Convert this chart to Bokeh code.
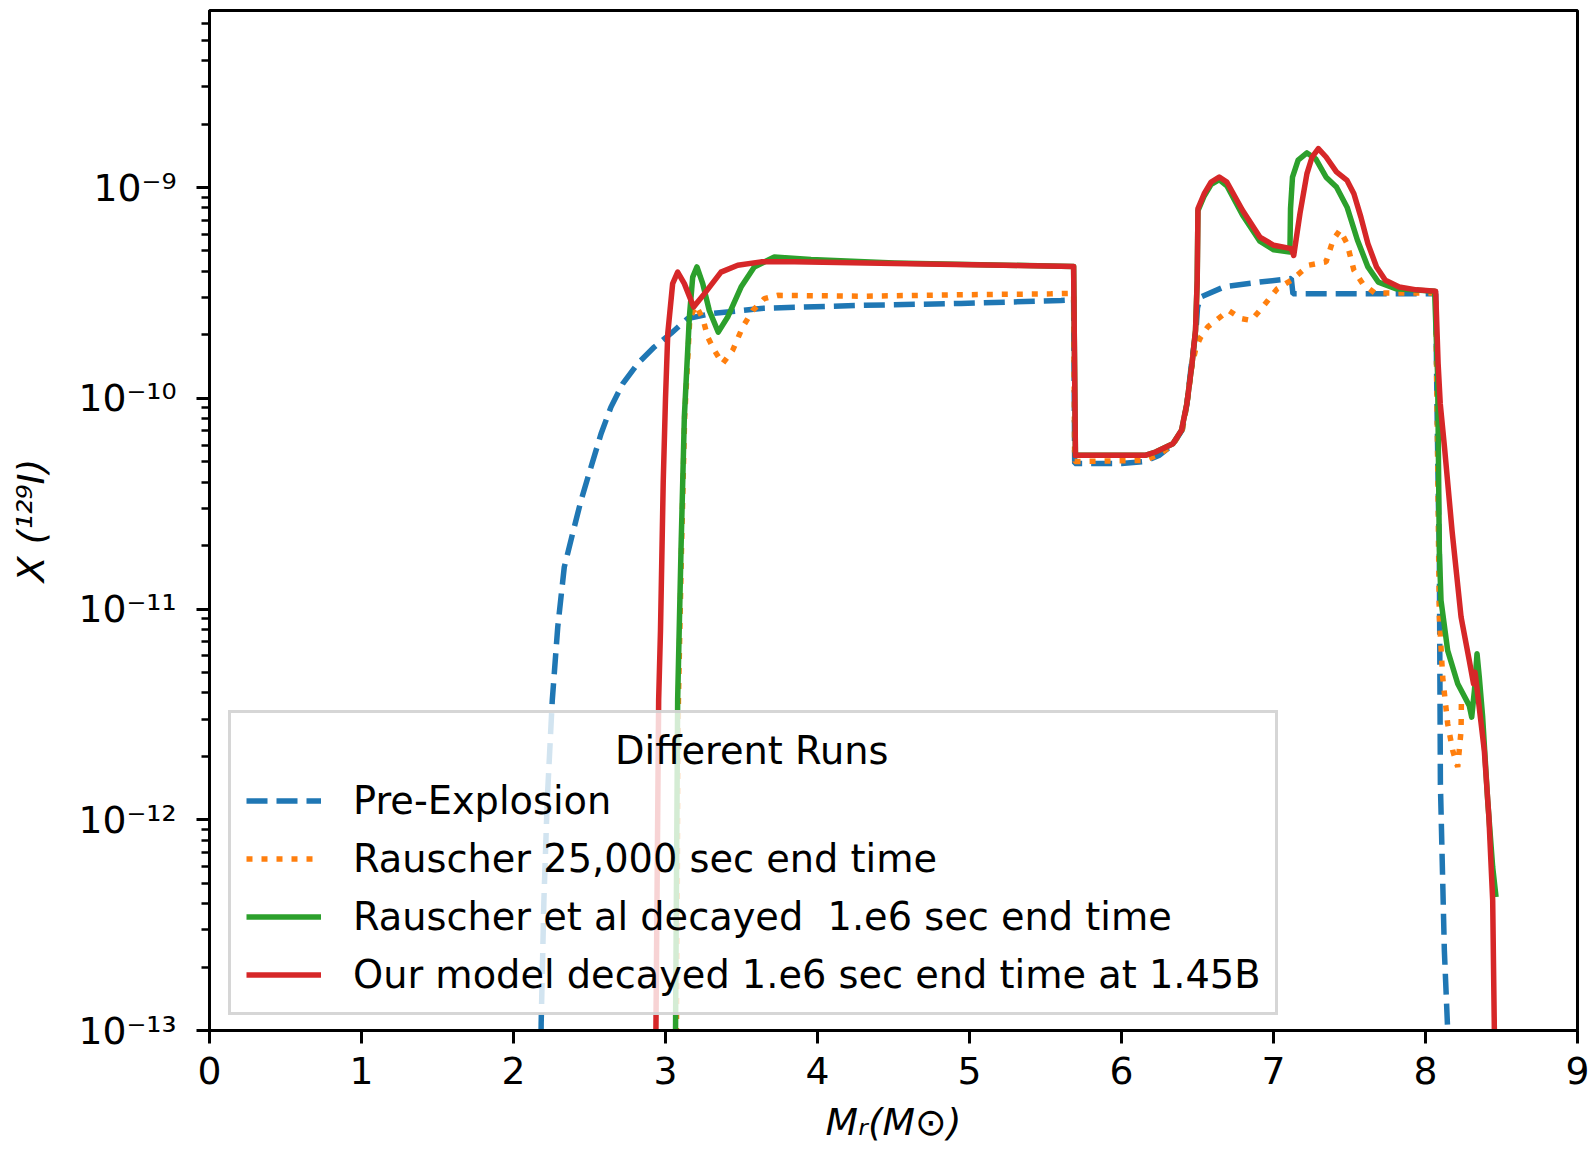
from bokeh.plotting import figure
from bokeh.models import Range1d, FixedTicker, Legend, LegendItem
from bokeh.embed import file_html
from bokeh.resources import INLINE

# Mass coordinate M_r (solar masses) and 129I mass fraction for each run
pre_m = [2.178, 2.182, 2.200, 2.222, 2.255, 2.291, 2.334, 2.389, 2.444, 2.510,
         2.576, 2.641, 2.718, 2.817, 2.926, 3.036, 3.146, 3.299, 3.628, 4.286,
         4.944, 5.602, 5.685, 5.692, 6.000, 6.150, 6.250, 6.338, 6.400, 6.430,
         6.460, 6.490, 6.500, 6.520, 6.680, 6.910, 7.117, 7.128, 7.500, 8.067,
         8.075, 8.085, 8.091, 8.098, 8.124, 8.146, 8.155]
pre_x = [5.0e-14, 1.08e-13, 4.14e-13, 1.24e-12, 3.68e-12, 8.20e-12, 1.58e-11, 2.28e-11, 3.27e-11, 4.72e-11,
         6.79e-11, 9.08e-11, 1.17e-10, 1.46e-10, 1.75e-10, 2.03e-10, 2.39e-10, 2.52e-10, 2.67e-10, 2.76e-10,
         2.82e-10, 2.91e-10, 2.93e-10, 4.90e-11, 4.90e-11, 5.01e-11, 5.37e-11, 6.03e-11, 7.08e-11, 9.33e-11,
         1.45e-10, 2.09e-10, 2.69e-10, 3.02e-10, 3.39e-10, 3.56e-10, 3.70e-10, 3.13e-10, 3.13e-10, 3.13e-10,
         1.0e-10, 3.16e-11, 1.91e-11, 1.48e-12, 2.40e-13, 1.0e-13, 5.0e-14]

r25_m = [3.070, 3.072, 3.085, 3.105, 3.126, 3.160, 3.200, 3.245, 3.278, 3.321,
         3.376, 3.442, 3.508, 3.574, 3.650, 3.738, 4.286, 4.944, 5.536, 5.685,
         5.692, 6.150, 6.250, 6.338, 6.400, 6.430, 6.460, 6.490, 6.521, 6.567,
         6.705, 6.785, 6.853, 6.910, 7.025, 7.117, 7.232, 7.346, 7.392, 7.437,
         7.484, 7.529, 7.586, 7.666, 8.067, 8.080, 8.091, 8.113, 8.146, 8.179,
         8.212, 8.222, 8.234, 8.236]
r25_x = [5.0e-14, 1.0e-13, 3.72e-12, 1.91e-11, 8.13e-11, 2.40e-10, 2.75e-10, 2.40e-10, 1.95e-10, 1.69e-10,
         1.46e-10, 1.69e-10, 2.18e-10, 2.61e-10, 2.97e-10, 3.08e-10, 3.05e-10, 3.10e-10, 3.13e-10, 3.15e-10,
         5.01e-11, 5.07e-11, 5.43e-11, 6.03e-11, 7.08e-11, 9.33e-11, 1.38e-10, 1.74e-10, 1.95e-10, 2.18e-10,
         2.61e-10, 2.39e-10, 2.34e-10, 2.61e-10, 3.31e-10, 3.63e-10, 4.28e-10, 4.44e-10, 5.64e-10, 6.28e-10,
         5.42e-10, 4.05e-10, 3.50e-10, 3.16e-10, 3.16e-10, 5.01e-11, 9.16e-12, 4.75e-12, 2.85e-12, 2.13e-12,
         1.78e-12, 2.13e-12, 2.65e-12, 3.55e-12]

rdec_m = [3.064, 3.066, 3.080, 3.102, 3.124, 3.157, 3.179, 3.207, 3.245, 3.288,
          3.347, 3.409, 3.497, 3.584, 3.716, 3.957, 4.505, 5.602, 5.685, 5.697,
          6.155, 6.224, 6.338, 6.395, 6.430, 6.464, 6.487, 6.498, 6.503, 6.544,
          6.590, 6.643, 6.693, 6.796, 6.910, 7.002, 7.108, 7.112, 7.125, 7.162,
          7.220, 7.277, 7.346, 7.414, 7.484, 7.552, 7.621, 7.690, 7.804, 7.941,
          8.060, 8.080, 8.091, 8.102, 8.146, 8.212, 8.288, 8.304, 8.322, 8.339,
          8.354, 8.376, 8.409, 8.442, 8.464]
rdec_x = [5.0e-14, 1.0e-13, 3.72e-12, 1.91e-11, 8.15e-11, 2.43e-10, 3.76e-10, 4.20e-10, 3.50e-10, 2.61e-10,
          2.06e-10, 2.43e-10, 3.37e-10, 4.20e-10, 4.68e-10, 4.55e-10, 4.39e-10, 4.23e-10, 4.22e-10, 5.36e-11,
          5.36e-11, 5.56e-11, 6.08e-11, 7.05e-11, 9.42e-11, 1.46e-10, 2.10e-10, 3.63e-10, 7.76e-10, 9.12e-10,
          1.035e-9, 1.09e-9, 1.02e-9, 7.41e-10, 5.56e-10, 5.06e-10, 4.94e-10, 7.94e-10, 1.12e-9, 1.35e-9,
          1.46e-9, 1.37e-9, 1.12e-9, 1.005e-9, 8.07e-10, 5.64e-10, 4.20e-10, 3.56e-10, 3.31e-10, 3.26e-10,
          3.22e-10, 1.26e-10, 1.90e-11, 1.10e-11, 6.35e-12, 4.42e-12, 3.48e-12, 3.07e-12, 4.11e-12, 6.14e-12,
          4.75e-12, 3.07e-12, 1.24e-12, 5.96e-13, 4.30e-13]

ours_m = [2.935, 2.937, 2.955, 2.967, 2.985, 3.000, 3.015, 3.047, 3.080, 3.124,
          3.185, 3.255, 3.365, 3.475, 3.628, 3.848, 4.505, 5.602, 5.685, 5.697,
          6.155, 6.224, 6.338, 6.395, 6.430, 6.464, 6.487, 6.498, 6.503, 6.544,
          6.590, 6.643, 6.693, 6.796, 6.910, 7.002, 7.117, 7.133, 7.174, 7.220,
          7.254, 7.295, 7.346, 7.414, 7.484, 7.529, 7.575, 7.621, 7.678, 7.736,
          7.827, 7.941, 8.067, 8.083, 8.097, 8.125, 8.175, 8.234, 8.288, 8.316,
          8.326, 8.343, 8.387, 8.417, 8.442, 8.453, 8.455]
ours_x = [5.0e-14, 1.0e-13, 3.72e-12, 7.90e-12, 4.00e-11, 1.00e-10, 2.03e-10, 3.50e-10, 3.97e-10, 3.50e-10,
          2.71e-10, 3.13e-10, 3.97e-10, 4.28e-10, 4.44e-10, 4.44e-10, 4.36e-10, 4.23e-10, 4.22e-10, 5.36e-11,
          5.36e-11, 5.56e-11, 6.08e-11, 7.05e-11, 9.42e-11, 1.46e-10, 2.10e-10, 3.63e-10, 7.94e-10, 9.35e-10,
          1.062e-9, 1.122e-9, 1.062e-9, 7.80e-10, 5.82e-10, 5.32e-10, 5.13e-10, 4.76e-10, 7.52e-10, 1.164e-9,
          1.396e-9, 1.531e-9, 1.396e-9, 1.186e-9, 1.081e-9, 9.35e-10, 7.24e-10, 5.42e-10, 4.20e-10, 3.63e-10,
          3.37e-10, 3.27e-10, 3.22e-10, 1.46e-10, 9.42e-11, 5.86e-11, 2.34e-11, 9.16e-12, 5.70e-12, 4.42e-12,
          5.01e-12, 3.96e-12, 2.13e-12, 1.03e-12, 4.14e-13, 1.0e-13, 5.0e-14]

run_labels = ["Pre-Explosion",
              "Rauscher 25,000 sec end time",
              "Rauscher et al decayed  1.e6 sec end time",
              "Our model decayed 1.e6 sec end time at 1.45B"]
legend_title = "Different Runs"
x_title = "M\u1d63(M\u2299)"
y_title = "X (\u00b9\u00b2\u2079I)"

x_ticks = [0, 1, 2, 3, 4, 5, 6, 7, 8, 9]
y_ticks = [1e-13, 1e-12, 1e-11, 1e-10, 1e-9]
y_tick_text = ["10\u207b\u00b9\u00b3", "10\u207b\u00b9\u00b2", "10\u207b\u00b9\u00b9",
               "10\u207b\u00b9\u2070", "10\u207b\u2079"]
y_minor = [k * d for d in y_ticks for k in range(2, 10)]

FONT = "DejaVu Sans"
FS = "37.7px"
LFS = "38.3px"

p = figure(width=1596, height=1157, y_axis_type="log", title=None,
           x_range=Range1d(0, 9), y_range=Range1d(1e-13, 6.92e-9),
           output_backend="svg", toolbar_location=None,
           min_border_left=209, min_border_right=19,
           min_border_top=10, min_border_bottom=127)
p.xgrid.visible = False
p.ygrid.visible = False
p.background_fill_color = "white"
p.border_fill_color = "white"
p.outline_line_color = "black"
p.outline_line_width = 3
p.outline_line_alpha = 1.0

for ax in (p.xaxis[0], p.yaxis[0]):
    ax.axis_line_width = 3
    ax.axis_line_color = "black"
    ax.major_tick_line_width = 3
    ax.major_tick_line_color = "black"
    ax.major_tick_out = 13
    ax.major_tick_in = 0
    ax.major_label_text_font = FONT
    ax.major_label_text_font_size = FS
    ax.major_label_text_color = "black"
    ax.major_label_standoff = 13
    ax.axis_label_text_font = FONT
    ax.axis_label_text_font_size = FS
    ax.axis_label_text_font_style = "italic"
    ax.axis_label_text_color = "black"

p.xaxis.ticker = FixedTicker(ticks=x_ticks)
p.xaxis.minor_tick_line_color = None
p.xaxis.axis_label = x_title
p.xaxis.axis_label_standoff = 13

p.yaxis.ticker = FixedTicker(ticks=y_ticks, minor_ticks=y_minor)
p.yaxis.major_label_overrides = dict(zip(y_ticks, y_tick_text))
p.yaxis.minor_tick_out = 8
p.yaxis.minor_tick_in = 0
p.yaxis.minor_tick_line_width = 2.3
p.yaxis.minor_tick_line_color = "black"
p.yaxis.major_label_standoff = 20
p.yaxis.axis_label = y_title
p.yaxis.axis_label_standoff = 22

LW = 5.5
r_pre = p.line(pre_m, pre_x, line_color="#1f77b4", line_width=LW, line_dash="21 9")
r_r25 = p.line(r25_m, r25_x, line_color="#ff7f0e", line_width=LW, line_dash="6 9")
r_dec = p.line(rdec_m, rdec_x, line_color="#2ca02c", line_width=LW, line_join="round")
r_our = p.line(ours_m, ours_x, line_color="#d62728", line_width=LW, line_join="round")

# legend title is left-aligned by Bokeh; no-break spaces push it to the centre
title_pad = "\u00a0" * 30 + "\u200a"
legend = Legend(
    items=[LegendItem(label=lab, renderers=[r]) for lab, r in
           zip(run_labels, [r_pre, r_r25, r_dec, r_our])],
    location=(19, 15), margin=0, padding=15,
    title=title_pad + legend_title, title_text_font=FONT, title_text_font_size=LFS,
    title_text_font_style="normal", title_text_color="black", title_standoff=5,
    label_text_font=FONT, label_text_font_size=LFS, label_text_color="black",
    label_standoff=32, glyph_width=75, glyph_height=45, label_height=45, spacing=13,
    background_fill_color="white", background_fill_alpha=0.8,
    border_line_color="#cccccc", border_line_alpha=0.8, border_line_width=3,
)
p.add_layout(legend)

open("out.html", "w").write(file_html(p, INLINE))
